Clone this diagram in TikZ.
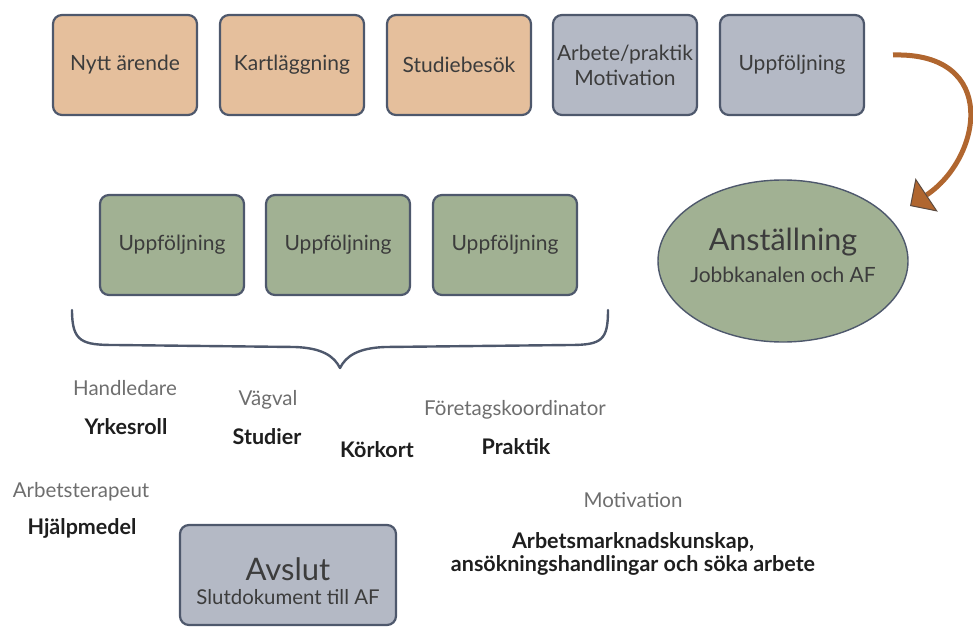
\documentclass[tikz,border=0pt]{standalone}
\usepackage{fontspec}
\setmainfont{Lato}
\usepackage{tikz}
\usetikzlibrary{shapes.geometric,arrows.meta}
\definecolor{peach}{HTML}{E5BF9C}
\definecolor{slate}{HTML}{B4B9C5}
\definecolor{sage}{HTML}{A1B193}
\definecolor{boxline}{HTML}{4E586C}
\definecolor{boxtext}{HTML}{3C3C3C}
\definecolor{rolegray}{HTML}{6E6E6E}
\definecolor{taskblack}{HTML}{1E1E1E}
\definecolor{arrowbrown}{HTML}{B0662F}
\definecolor{arrowline}{HTML}{5A4A40}
\newcommand{\boxfont}{\fontsize{21}{25}\selectfont}
\newcommand{\labelfont}{\fontsize{20.5}{23}\selectfont}
\newcommand{\boldfont}{\fontsize{21.5}{23}\selectfont\bfseries}
\tikzset{
  stepbox/.style={draw=boxline, line width=2.2pt, rounded corners=9pt,
    minimum width=144pt, minimum height=100pt, inner sep=0pt,
    text=boxtext, font=\boxfont, align=center},
  orangebox/.style={stepbox, fill=peach},
  greybox/.style={stepbox, fill=slate},
  greenbox/.style={stepbox, fill=sage},
  role/.style={text=rolegray, font=\labelfont, inner sep=0pt},
  task/.style={text=taskblack, font=\boldfont, align=center, inner sep=0pt},
  bigtext/.style={text=boxtext, align=center, inner sep=0pt}
}

\begin{document}
\begin{tikzpicture}[x=1pt, y=-1pt]
\useasboundingbox (0,0) rectangle (973,628);
%top row
\node[orangebox] (nytt) at (125, 65) {Nytt ärende};
\node[orangebox] (kart) at (292, 65) {Kartläggning};
\node[orangebox] (studie) at (459, 65) {Studiebesök};
\node[greybox] (arbete) at (625, 65) {Arbete/praktik\\Motivation};
\node[greybox] (uppf) at (792, 65) {Uppföljning};
%uppfoljning
\node[greenbox] (u1) at (172, 245) {Uppföljning};
\node[greenbox] (u2) at (338, 245) {Uppföljning};
\node[greenbox] (u3) at (505, 245) {Uppföljning};
%anstallning
\node[ellipse, draw=boxline, line width=1.4pt, fill=sage, minimum width=250pt,
  minimum height=162pt, inner sep=0pt,
  label={[bigtext, yshift=6pt]center:{\fontsize{30.5}{34}\selectfont Anställning\\[10pt]
  \fontsize{21}{24}\selectfont Jobbkanalen och AF}}]
  (anst) at (783, 261) {};
%avslut
\node[greybox, minimum width=216pt, minimum height=100pt,
  label={[bigtext, yshift=-6pt]center:{\fontsize{31}{34}\selectfont Avslut\\[8pt]
  \fontsize{20.4}{24}\selectfont Slutdokument till AF}}]
  (avslut) at (288, 575) {};
%arrow
\coordinate (a1) at (893, 55);
\coordinate (a2) at (910, 206);
\draw[arrowbrown, line width=5pt,
  -{Triangle[length=20pt, width=40pt, color=arrowline, fill=arrowbrown, line width=1pt]}]
  (a1) .. controls (1000, 52) and (982, 158) .. (a2);
%brace
\coordinate (bl) at (72, 310);
\coordinate (bm) at (340, 368);
\coordinate (br) at (608, 310);
\draw[boxline, line width=2.4pt, line cap=round, line join=round]
  (bl) .. controls (72, 342) and (82, 345) .. (115, 345)
  -- (295, 347) .. controls (322, 348) and (334, 356) .. (bm)
  .. controls (346, 356) and (358, 348) .. (385, 347)
  -- (570, 345) .. controls (602, 345) and (608, 340) .. (br);
%labels
\node[role] (hand) at (125, 388) {Handledare};
\node[task] (yrke) at (126, 427) {Yrkesroll};
\node[role] (vag) at (268, 400) {Vägval};
\node[task] (stud) at (267, 437) {Studier};
\node[task] (kork) at (377, 450) {Körkort};
\node[role] (ftg) at (515, 410) {Företagskoordinator};
\node[task] (prak) at (516, 447) {Praktik};
\node[role] (terap) at (81, 492) {Arbetsterapeut};
\node[task] (hjalp) at (82, 528) {Hjälpmedel};
\node[role] (mot) at (633, 500) {Motivation};
\node[task] (amk) at (633, 554) {Arbetsmarknadskunskap,\\ansökningshandlingar och söka arbete};
\end{tikzpicture}
\end{document}
